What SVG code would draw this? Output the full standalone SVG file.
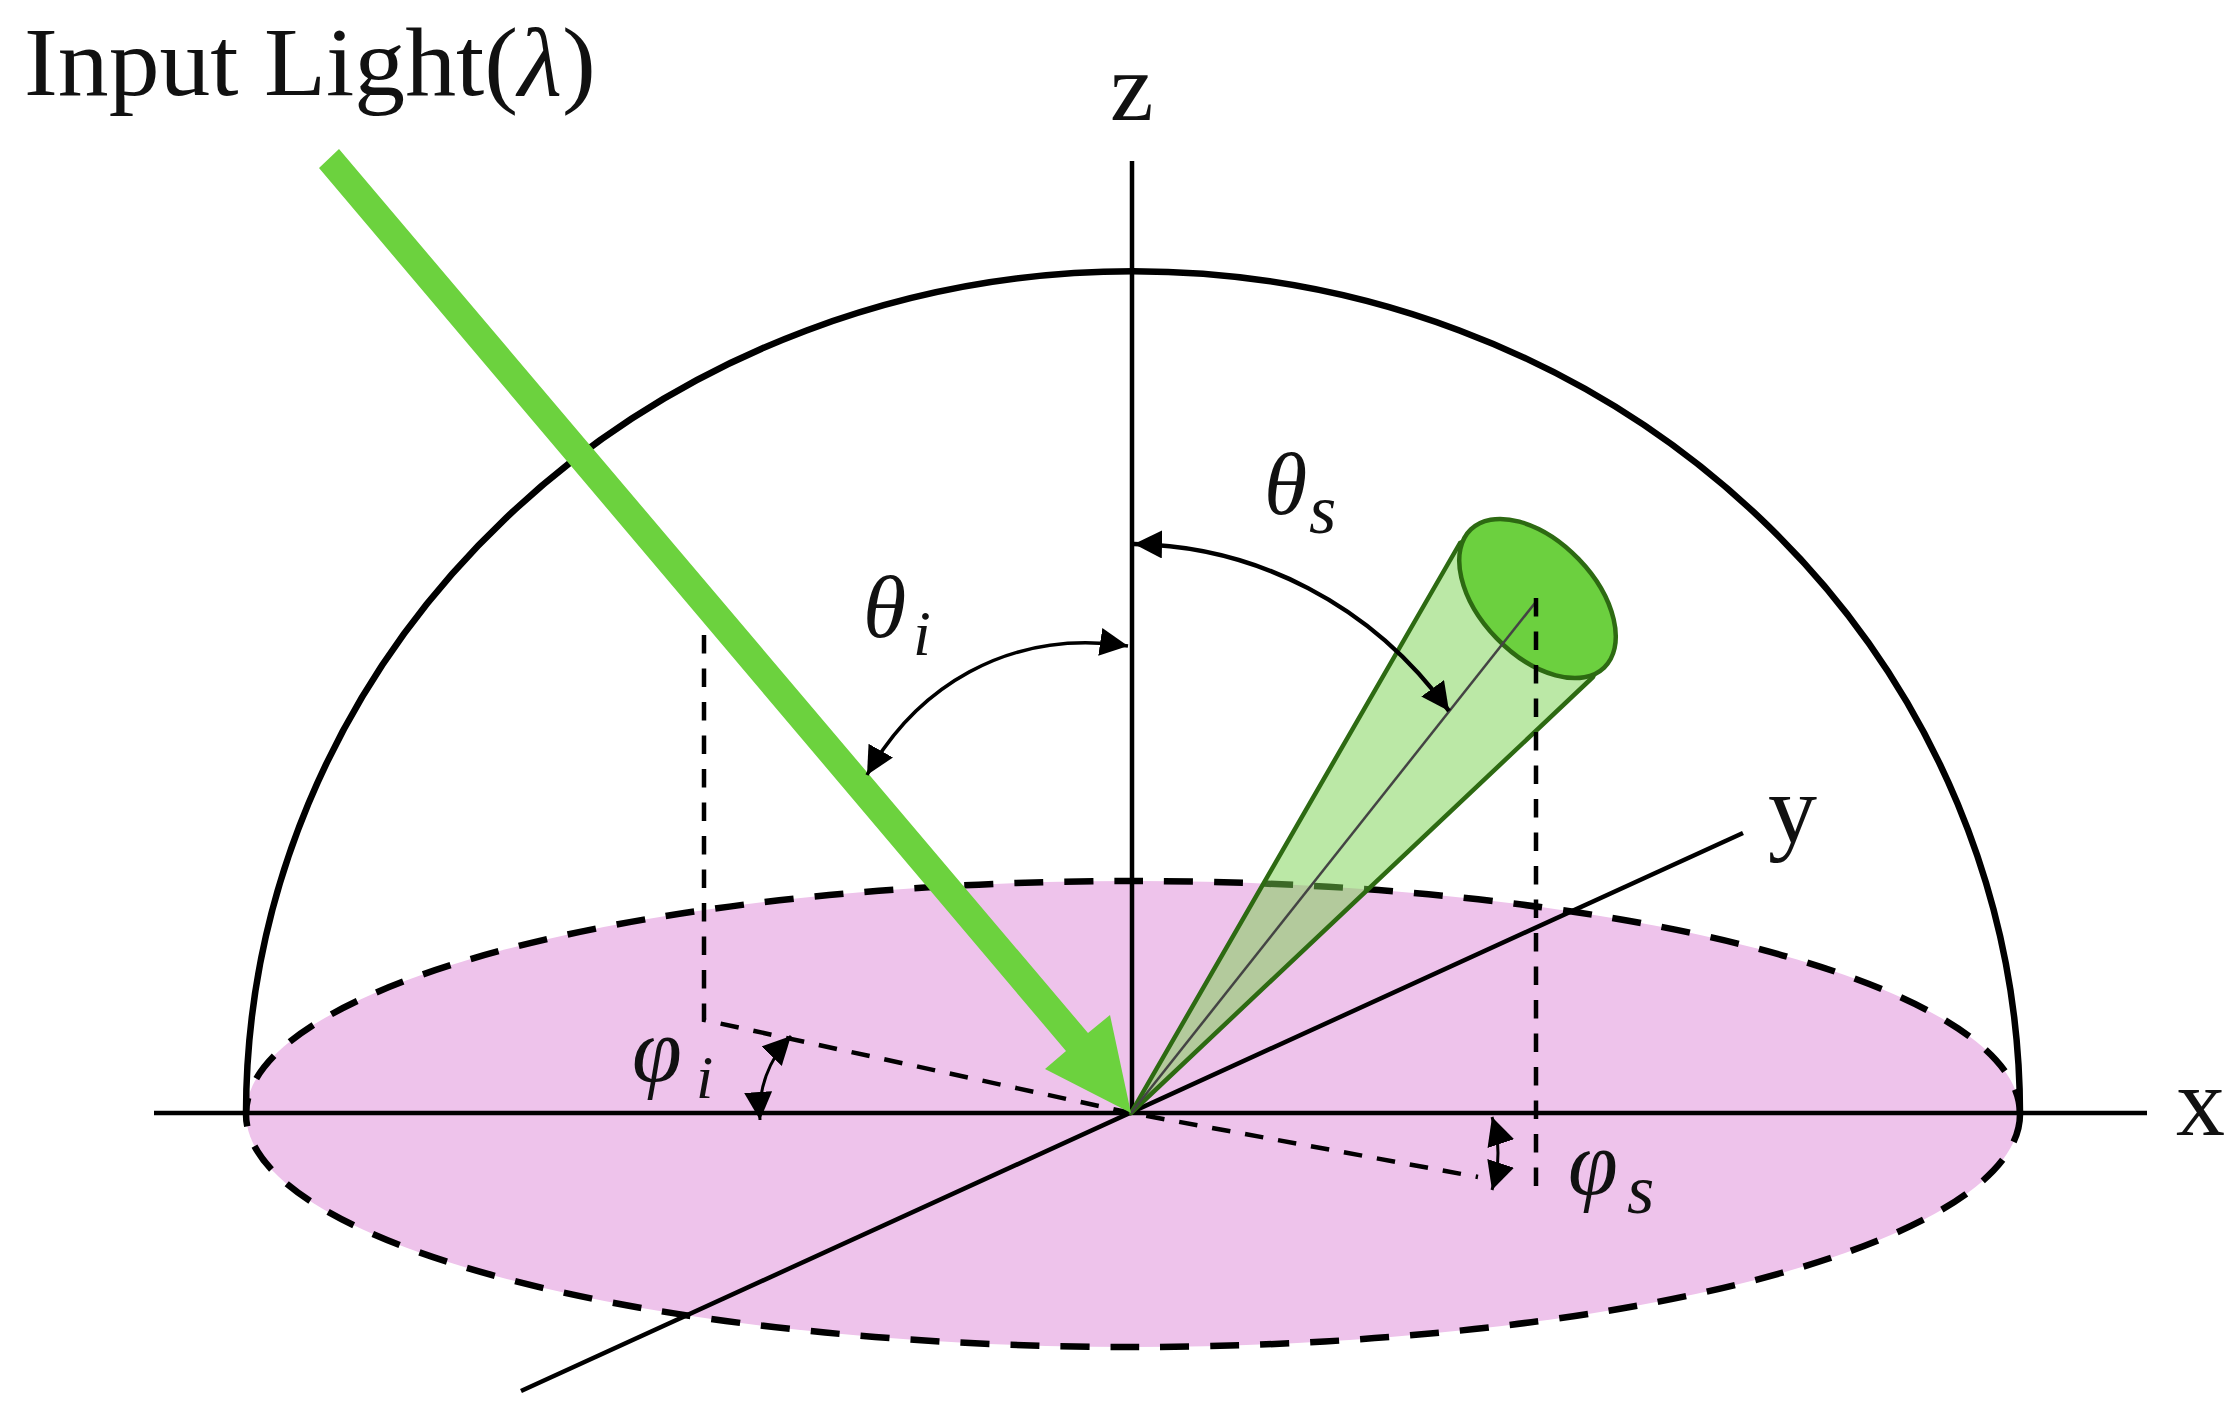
<svg xmlns="http://www.w3.org/2000/svg" width="2237" height="1419" viewBox="0 0 2237 1419">
<style>
.t{font-family:"Liberation Serif","Times New Roman",serif;fill:#111}
.m{font-family:"Liberation Serif","Times New Roman",serif;font-style:italic;fill:#111}
.ax{stroke:#000;stroke-width:4.5;fill:none}
.dash{stroke:#000;stroke-width:4.5;fill:none;stroke-dasharray:18.5 15}
.ang{stroke:#000;fill:none}
</style>
<defs>
<marker id="h" markerUnits="userSpaceOnUse" markerWidth="30" markerHeight="30" refX="28" refY="14" orient="auto-start-reverse" viewBox="0 0 30 30"><path d="M0 0L28 14L0 28Z" fill="#000"/></marker>
</defs>
<rect width="2237" height="1419" fill="#fff"/>
<g id="disc"><ellipse cx="1133" cy="1114" rx="887" ry="233" fill="#EEC3EB" stroke="#000" stroke-width="6.5" stroke-dasharray="29 21"/></g>
<g id="dome"><path d="M246 1114A887 843 0 0 1 2020 1114" fill="none" stroke="#000" stroke-width="6.5"/></g>
<g id="connectors">
<path class="ax" d="M1132 161V1113"/>
<path class="ax" d="M154 1113H2147"/>
<path class="ax" d="M521 1391L1743 833"/>
<path class="dash" d="M704 635V1020L1131 1113L1478 1177"/>
<g id="cone">
<path d="M1131 1113L1460 543A96 57 46 0 1 1593 677Z" fill="#77D14D" fill-opacity=".5" stroke="#2D6A12" stroke-width="4.5" stroke-linejoin="round"/>
<ellipse cx="1537.5" cy="598.5" rx="96" ry="57" transform="rotate(46 1537.5 598.5)" fill="#6CD03F" stroke="#2D6A12" stroke-width="4.5"/>
<path d="M1131 1113L1535 603" stroke="#444" stroke-width="2.5" fill="none"/>
</g>
<path class="dash" d="M1536 598V1189"/>
<path id="beam" d="M319 168L339 149L1088 1033L1110 1015L1131 1113L1045 1069L1066 1051Z" fill="#6CD23E"/>
<path class="ang" stroke-width="4.5" d="M1134 544C1255 546 1372 604 1449 711" marker-start="url(#h)" marker-end="url(#h)"/>
<path class="ang" stroke-width="3.5" d="M867 775C915 690 1005 628 1128 646" marker-start="url(#h)" marker-end="url(#h)"/>
<path class="ang" stroke-width="3" d="M791 1036C768 1060 758 1090 760 1120" marker-start="url(#h)" marker-end="url(#h)"/>
<path class="ang" stroke-width="3" d="M1492 1117Q1504 1153 1492 1190" marker-start="url(#h)" marker-end="url(#h)"/>
</g>
<g id="label-input"><text class="t" x="24" y="95" font-size="97" textLength="572" lengthAdjust="spacingAndGlyphs">Input Light(<tspan font-style="italic">λ</tspan>)</text></g>
<g id="label-z"><text class="t" x="1110" y="120" font-size="98">z</text></g>
<g id="label-x"><text class="t" x="2176" y="1135" font-size="98">x</text></g>
<g id="label-y"><text class="t" x="1768" y="842" font-size="98">y</text></g>
<g id="label-theta-i"><text class="m" x="863" y="637" font-size="88">θ</text><text class="m" x="913" y="655" font-size="64">i</text></g>
<g id="label-theta-s"><text class="m" x="1264" y="514" font-size="88">θ</text><text class="m" x="1309" y="533" font-size="70">s</text></g>
<g id="label-phi-i"><text class="m" x="632" y="1081" font-size="90">φ</text><text class="m" x="696" y="1098" font-size="62">i</text></g>
<g id="label-phi-s"><text class="m" x="1568" y="1194" font-size="90">φ</text><text class="m" x="1627" y="1213" font-size="70">s</text></g>
</svg>
